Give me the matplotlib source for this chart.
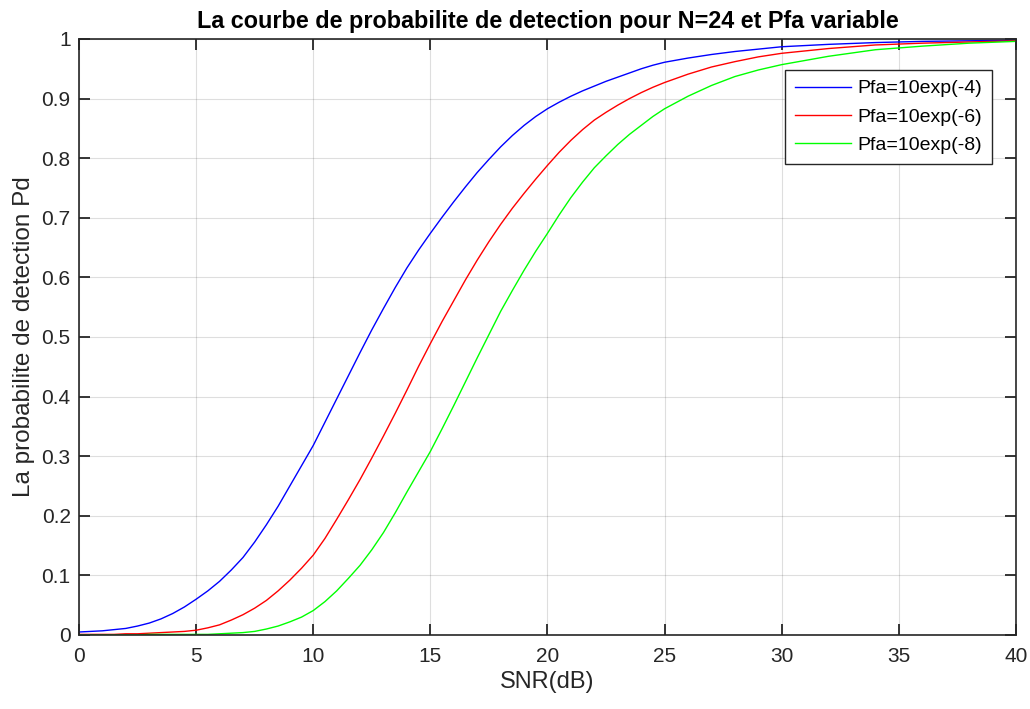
import numpy as np
import matplotlib
matplotlib.use('Agg')
import matplotlib.pyplot as plt

# SNR axis (dB) and Pd values
snr_db = [0, 0.5, 1, 1.5, 2, 2.5, 3, 3.5, 4, 4.5, 5, 5.5, 6, 6.5, 7, 7.5, 8, 8.5,
          9, 9.5, 10, 10.5, 11, 11.5, 12, 12.5, 13, 13.5, 14, 14.5, 15, 15.5, 16,
          16.5, 17, 17.5, 18, 18.5, 19, 19.5, 20, 20.5, 21, 21.5, 22, 22.5, 23,
          23.5, 24, 24.5, 25, 26, 27, 28, 29, 30, 32, 34, 36, 38, 40]

pd_pfa4 = [0.005, 0.006, 0.007, 0.009, 0.011, 0.015, 0.020, 0.027, 0.036, 0.047,
           0.060, 0.074, 0.090, 0.109, 0.130, 0.156, 0.185, 0.216, 0.250, 0.284,
           0.318, 0.357, 0.396, 0.435, 0.474, 0.512, 0.548, 0.583, 0.616, 0.646,
           0.674, 0.701, 0.727, 0.752, 0.776, 0.798, 0.819, 0.838, 0.855, 0.870,
           0.883, 0.894, 0.904, 0.913, 0.921, 0.929, 0.936, 0.943, 0.950, 0.956,
           0.961, 0.968, 0.974, 0.979, 0.983, 0.987, 0.991, 0.994, 0.996, 0.997,
           0.998]

pd_pfa6 = [0.001, 0.001, 0.001, 0.001, 0.002, 0.002, 0.003, 0.004, 0.005, 0.006,
           0.008, 0.012, 0.017, 0.025, 0.034, 0.045, 0.058, 0.074, 0.092, 0.112,
           0.134, 0.162, 0.194, 0.227, 0.261, 0.297, 0.334, 0.372, 0.411, 0.451,
           0.489, 0.526, 0.561, 0.596, 0.629, 0.660, 0.689, 0.716, 0.741, 0.765,
           0.788, 0.810, 0.830, 0.848, 0.864, 0.877, 0.889, 0.900, 0.910, 0.919,
           0.927, 0.941, 0.953, 0.962, 0.970, 0.976, 0.984, 0.990, 0.993, 0.995,
           0.997]

pd_pfa8 = [0.000, 0.000, 0.000, 0.000, 0.000, 0.000, 0.001, 0.001, 0.001, 0.001,
           0.001, 0.001, 0.002, 0.003, 0.004, 0.006, 0.010, 0.015, 0.022, 0.030,
           0.041, 0.056, 0.074, 0.095, 0.117, 0.143, 0.172, 0.205, 0.240, 0.274,
           0.308, 0.346, 0.385, 0.425, 0.465, 0.504, 0.543, 0.578, 0.612, 0.644,
           0.674, 0.705, 0.734, 0.760, 0.784, 0.804, 0.823, 0.840, 0.855, 0.870,
           0.883, 0.904, 0.922, 0.937, 0.948, 0.957, 0.971, 0.982, 0.988, 0.993,
           0.996]

labels = ['Pfa=10exp(-4)', 'Pfa=10exp(-6)', 'Pfa=10exp(-8)']

xticks = np.arange(0, 41, 5)
yticks = np.round(np.arange(0, 1.01, 0.1), 1)

plt.rcParams['font.family'] = ['Liberation Sans', 'DejaVu Sans']
axcol = (0.15, 0.15, 0.15)

fig = plt.figure(figsize=(10.3, 7.09), dpi=100)
ax = fig.add_axes([0.0767, 0.1044, 0.9097, 0.8406])

ax.plot(snr_db, pd_pfa4, color=(0, 0, 1), lw=1.0, label=labels[0])
ax.plot(snr_db, pd_pfa6, color=(1, 0, 0), lw=1.0, label=labels[1])
ax.plot(snr_db, pd_pfa8, color=(0, 1, 0), lw=1.0, label=labels[2])

ax.set_xlim(0, 40)
ax.set_ylim(0, 1)
ax.set_xticks(xticks)
ax.set_yticks(yticks)
ax.set_yticklabels(['%g' % v for v in yticks])

ax.grid(True, color=(0.15, 0.15, 0.15), alpha=0.15, lw=0.8)
ax.set_axisbelow(True)
for s in ax.spines.values():
    s.set_color(axcol)
    s.set_linewidth(1.2)
ax.tick_params(direction='in', length=8, width=1.3, colors=axcol,
               labelsize=15, top=True, right=True)
ax.tick_params(axis='x', pad=9)
ax.tick_params(axis='y', pad=6)

ax.set_xlabel('SNR(dB)', fontsize=17, color=axcol, labelpad=3)
ax.set_ylabel('La probabilite de detection Pd', fontsize=17.5, color=axcol, labelpad=5)
ax.set_title('La courbe de probabilite de detection pour N=24 et Pfa variable',
             fontsize=16.8, fontweight='bold', pad=8)

leg = ax.legend(loc='upper right', bbox_to_anchor=(0.974, 0.948), borderaxespad=0,
                fontsize=14, fancybox=False, handlelength=2.9, handletextpad=0.3,
                labelspacing=0.55, borderpad=0.5, framealpha=1)
leg.get_frame().set_edgecolor(axcol)
leg.get_frame().set_linewidth(1.0)

fig.savefig('out.png', dpi=100)
